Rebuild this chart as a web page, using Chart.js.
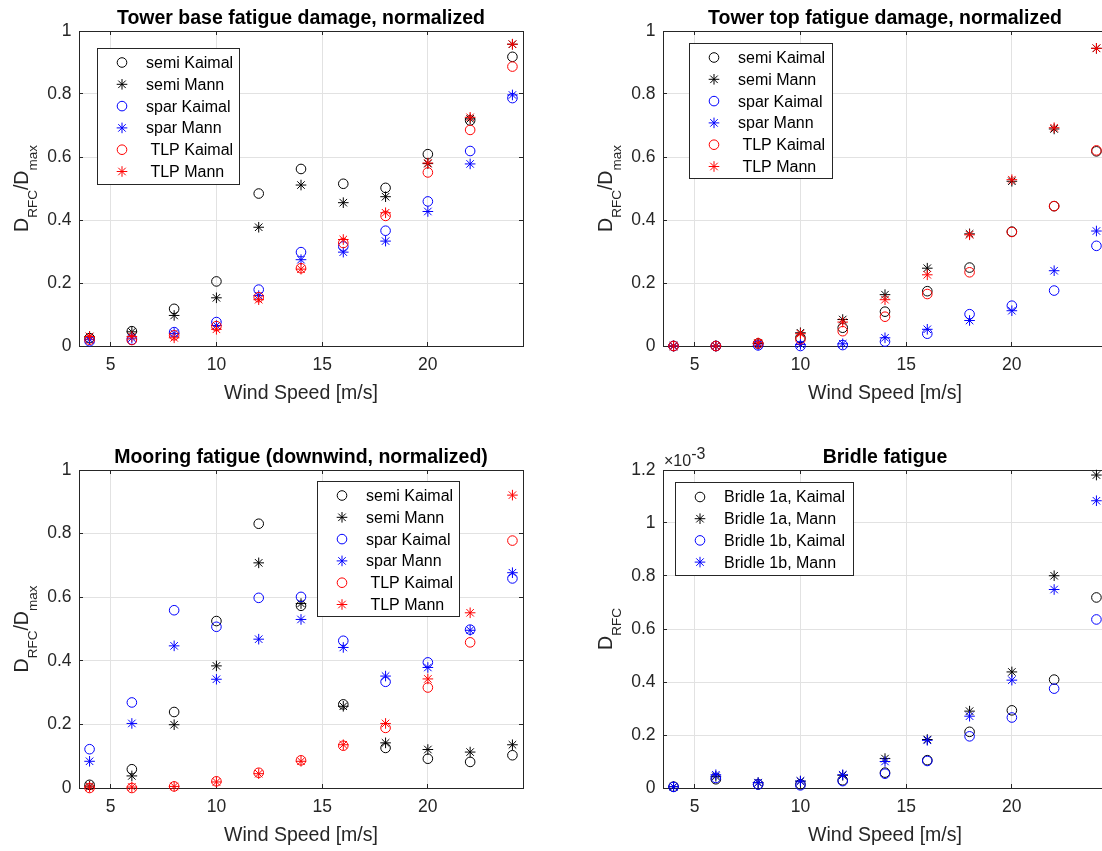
<!DOCTYPE html>
<html>
<head>
<meta charset="utf-8">
<title>Fatigue damage vs wind speed</title>
<script src="https://cdn.jsdelivr.net/npm/chart.js@4.4.1/dist/chart.umd.min.js"></script>
<style>
  html, body { margin: 0; padding: 0; background: #fff; width: 1102px; height: 851px; overflow: hidden; }
  canvas { position: absolute; }
</style>
</head>
<body>
<canvas id="towerBase" width="560" height="425" style="left:0;top:0"></canvas>
<canvas id="towerTop" width="560" height="425" style="left:560px;top:0"></canvas>
<canvas id="mooring" width="560" height="426" style="left:0;top:425px"></canvas>
<canvas id="bridle" width="560" height="426" style="left:560px;top:425px"></canvas>
<script>
// wind speeds [m/s]
const windSpeed = [4, 6, 8, 10, 12, 14, 16, 18, 20, 22, 24];
const xTicks = [5, 10, 15, 20];
const yTicksNorm = [0, 0.2, 0.4, 0.6, 0.8, 1];
const yTicksBridle = [0, 0.2, 0.4, 0.6, 0.8, 1, 1.2];

const caseLabels = ["semi Kaimal", "semi Mann", "spar Kaimal", "spar Mann", " TLP Kaimal", " TLP Mann"];
const bridleLabels = ["Bridle 1a, Kaimal", "Bridle 1a, Mann", "Bridle 1b, Kaimal", "Bridle 1b, Mann"];

// tower base, normalized
const baseSemiKaimal = [0.025, 0.047, 0.118, 0.205, 0.484, 0.562, 0.515, 0.502, 0.609, 0.716, 0.918];
const baseSemiMann = [0.030, 0.045, 0.097, 0.153, 0.377, 0.511, 0.455, 0.474, 0.579, 0.721, 0.958];
const baseSparKaimal = [0.015, 0.020, 0.044, 0.076, 0.179, 0.298, 0.316, 0.366, 0.459, 0.619, 0.787];
const baseSparMann = [0.020, 0.025, 0.040, 0.065, 0.160, 0.274, 0.298, 0.333, 0.427, 0.578, 0.797];
const baseTlpKaimal = [0.020, 0.019, 0.034, 0.063, 0.155, 0.247, 0.327, 0.413, 0.551, 0.686, 0.887];
const baseTlpMann = [0.030, 0.030, 0.026, 0.053, 0.147, 0.244, 0.338, 0.423, 0.581, 0.726, 0.958];

// tower top, normalized
const topSemiKaimal = [0, 0, 0.008, 0.026, 0.058, 0.109, 0.174, 0.249, 0.363, 0.444, 0.618];
const topSemiMann = [0, 0, 0.008, 0.042, 0.084, 0.163, 0.247, 0.356, 0.523, 0.689, 0.945];
const topSparKaimal = [0, 0, 0.002, 0.000, 0.003, 0.014, 0.039, 0.101, 0.128, 0.176, 0.318];
const topSparMann = [0, 0, 0.003, 0.005, 0.007, 0.026, 0.053, 0.081, 0.112, 0.239, 0.365];
const topTlpKaimal = [0, 0, 0.008, 0.021, 0.047, 0.093, 0.165, 0.234, 0.362, 0.444, 0.621];
const topTlpMann = [0, 0, 0.010, 0.039, 0.076, 0.147, 0.226, 0.353, 0.528, 0.693, 0.945];

// mooring (downwind), normalized
const moorSemiKaimal = [0.010, 0.059, 0.239, 0.525, 0.831, 0.573, 0.263, 0.126, 0.092, 0.082, 0.103];
const moorSemiMann = [0.006, 0.038, 0.199, 0.384, 0.708, 0.580, 0.257, 0.142, 0.121, 0.113, 0.136];
const moorSparKaimal = [0.122, 0.269, 0.559, 0.507, 0.598, 0.601, 0.463, 0.334, 0.395, 0.498, 0.659];
const moorSparMann = [0.084, 0.203, 0.447, 0.342, 0.468, 0.530, 0.442, 0.352, 0.379, 0.496, 0.677];
const moorTlpKaimal = [0.000, 0.000, 0.005, 0.021, 0.048, 0.087, 0.133, 0.189, 0.316, 0.458, 0.778];
const moorTlpMann = [0.003, 0.003, 0.005, 0.019, 0.045, 0.084, 0.136, 0.203, 0.343, 0.551, 0.921];

// bridle D_RFC, in units of 1e-3
const bridle1aKaimal = [0.005, 0.033, 0.014, 0.014, 0.029, 0.058, 0.105, 0.212, 0.293, 0.409, 0.719];
const bridle1aMann = [0.005, 0.044, 0.020, 0.026, 0.048, 0.111, 0.183, 0.290, 0.438, 0.801, 1.181];
const bridle1bKaimal = [0.004, 0.038, 0.013, 0.010, 0.026, 0.054, 0.102, 0.195, 0.266, 0.375, 0.636];
const bridle1bMann = [0.005, 0.050, 0.020, 0.026, 0.050, 0.100, 0.180, 0.271, 0.407, 0.749, 1.084];

const FONT = "'Liberation Sans', Arial, Helvetica, sans-serif";
const AXIS_COLOR = "#262626";
const GRID_COLOR = "#e2e2e2";
const CIRCLE_R = 4.8;
const STAR_R = 5.3;

const caseStyles = [
  { color: "#000000", marker: "circle" },
  { color: "#000000", marker: "star" },
  { color: "#0000ff", marker: "circle" },
  { color: "#0000ff", marker: "star" },
  { color: "#ff0000", marker: "circle" },
  { color: "#ff0000", marker: "star" },
];

const normYLabel = [["D", false], ["RFC", true], ["/D", false], ["max", true]];

const panels = [
  {
    id: "towerBase", width: 560, height: 425,
    area: { left: 79, top: 31, right: 523, bottom: 346 },
    title: "Tower base fatigue damage, normalized",
    yLabel: normYLabel, yTicks: yTicksNorm, yMax: 1,
    labels: caseLabels, styles: caseStyles,
    series: [baseSemiKaimal, baseSemiMann, baseSparKaimal, baseSparMann, baseTlpKaimal, baseTlpMann],
    legend: { x: 97, y: 48, w: 142, h: 136, first: 14.5, step: 21.8 },
  },
  {
    id: "towerTop", width: 560, height: 425,
    area: { left: 103, top: 31, right: 547, bottom: 346 },
    title: "Tower top fatigue damage, normalized",
    yLabel: normYLabel, yTicks: yTicksNorm, yMax: 1,
    labels: caseLabels, styles: caseStyles,
    series: [topSemiKaimal, topSemiMann, topSparKaimal, topSparMann, topTlpKaimal, topTlpMann],
    legend: { x: 129, y: 43, w: 143, h: 135, first: 14.5, step: 21.8 },
  },
  {
    id: "mooring", width: 560, height: 426,
    area: { left: 79, top: 45, right: 523, bottom: 363 },
    title: "Mooring fatigue (downwind, normalized)",
    yLabel: normYLabel, yTicks: yTicksNorm, yMax: 1,
    labels: caseLabels, styles: caseStyles,
    series: [moorSemiKaimal, moorSemiMann, moorSparKaimal, moorSparMann, moorTlpKaimal, moorTlpMann],
    legend: { x: 317, y: 56, w: 142, h: 135, first: 14.5, step: 21.8 },
  },
  {
    id: "bridle", width: 560, height: 426,
    area: { left: 103, top: 45, right: 547, bottom: 363 },
    title: "Bridle fatigue",
    yLabel: [["D", false], ["RFC", true]], yTicks: yTicksBridle, yMax: 1.2,
    exponent: "-3",
    labels: bridleLabels, styles: caseStyles.slice(0, 4),
    series: [bridle1aKaimal, bridle1aMann, bridle1bKaimal, bridle1bMann],
    legend: { x: 115, y: 57, w: 178, h: 93, first: 15, step: 21.7 },
  },
];

function align(p) {
  return Math.round(p - 0.5) + 0.5;
}

function drawMarker(ctx, style, x, y) {
  ctx.strokeStyle = style.color;
  ctx.lineWidth = 1;
  ctx.beginPath();
  if (style.marker === "circle") {
    ctx.arc(x, y, CIRCLE_R, 0, Math.PI * 2);
  } else {
    const r = STAR_R, d = STAR_R * Math.SQRT1_2;
    ctx.moveTo(x - r, y); ctx.lineTo(x + r, y);
    ctx.moveTo(x, y - r); ctx.lineTo(x, y + r);
    ctx.moveTo(x - d, y - d); ctx.lineTo(x + d, y + d);
    ctx.moveTo(x - d, y + d); ctx.lineTo(x + d, y - d);
  }
  ctx.stroke();
}

function decor(panel) {
  return {
    id: "decor",
    beforeDatasetsDraw(chart) {
      const { ctx, chartArea: a, scales } = chart;
      ctx.save();
      ctx.strokeStyle = AXIS_COLOR;
      ctx.lineWidth = 1;
      ctx.strokeRect(a.left + 0.5, a.top + 0.5, a.right - a.left, a.bottom - a.top);
      ctx.beginPath();
      xTicks.forEach(v => {
        const p = align(scales.x.getPixelForValue(v));
        ctx.moveTo(p, a.bottom); ctx.lineTo(p, a.bottom - 4);
        ctx.moveTo(p, a.top); ctx.lineTo(p, a.top + 4);
      });
      panel.yTicks.forEach(v => {
        const p = align(scales.y.getPixelForValue(v));
        ctx.moveTo(a.left, p); ctx.lineTo(a.left + 4, p);
        ctx.moveTo(a.right, p); ctx.lineTo(a.right - 4, p);
      });
      ctx.stroke();
      ctx.restore();
    },
    afterDraw(chart) {
      const { ctx, chartArea: a } = chart;
      const cx = (a.left + a.right) / 2;
      ctx.save();
      ctx.textBaseline = "alphabetic";

      // title
      ctx.fillStyle = "#000";
      ctx.font = "bold 19.5px " + FONT;
      ctx.textAlign = "center";
      ctx.fillText(panel.title, cx, a.top - 7.5);

      // x label
      ctx.fillStyle = AXIS_COLOR;
      ctx.font = "19.5px " + FONT;
      ctx.fillText("Wind Speed [m/s]", cx, a.bottom + 52.5);

      // y label with subscripts
      ctx.save();
      ctx.translate(a.left - 51, (a.top + a.bottom) / 2);
      ctx.rotate(-Math.PI / 2);
      ctx.textAlign = "left";
      const fontOf = sub => (sub ? "13.5px " : "19.5px ") + FONT;
      let total = 0;
      panel.yLabel.forEach(([t, sub]) => { ctx.font = fontOf(sub); total += ctx.measureText(t).width; });
      let pos = -total / 2;
      panel.yLabel.forEach(([t, sub]) => {
        ctx.font = fontOf(sub);
        ctx.fillText(t, pos, sub ? 8.5 : 0);
        pos += ctx.measureText(t).width;
      });
      ctx.restore();

      // exponent label
      if (panel.exponent) {
        ctx.textAlign = "left";
        ctx.font = "16px " + FONT;
        ctx.fillText("\u00d710", a.left + 1, a.top - 4.5);
        const w = ctx.measureText("\u00d710").width;
        ctx.fillText(panel.exponent, a.left + 1 + w, a.top - 11.5);
      }

      // legend
      const L = panel.legend;
      ctx.fillStyle = "#fff";
      ctx.fillRect(L.x, L.y, L.w, L.h);
      ctx.strokeStyle = AXIS_COLOR;
      ctx.lineWidth = 1;
      ctx.strokeRect(L.x + 0.5, L.y + 0.5, L.w, L.h);
      ctx.font = "16px " + FONT;
      ctx.textAlign = "left";
      ctx.textBaseline = "middle";
      panel.labels.forEach((label, i) => {
        const y = L.y + L.first + i * L.step;
        drawMarker(ctx, panel.styles[i], L.x + 25, y);
        ctx.fillStyle = "#000";
        ctx.fillText(label, L.x + 49, y + 1);
      });
      ctx.restore();
    },
  };
}

function makeChart(panel) {
  const n = panel.series.length;
  const datasets = panel.series.map((values, i) => {
    const st = panel.styles[i];
    const r = st.marker === "circle" ? CIRCLE_R : STAR_R;
    return {
      label: panel.labels[i],
      data: values.map((v, k) => ({ x: windSpeed[k], y: v })),
      showLine: false,
      pointStyle: st.marker,
      pointRadius: r,
      pointHoverRadius: r,
      pointBorderWidth: 1,
      pointBorderColor: st.color,
      pointBackgroundColor: "rgba(0,0,0,0)",
      borderColor: st.color,
      backgroundColor: "rgba(0,0,0,0)",
      order: n - i,
      clip: false,
    };
  });

  const tickFont = { family: FONT, size: 17.5 };

  return new Chart(document.getElementById(panel.id), {
    type: "scatter",
    data: { datasets },
    options: {
      responsive: false,
      animation: false,
      events: [],
      layout: { padding: { left: 0, top: panel.area.top, right: panel.width - panel.area.right, bottom: 0 } },
      plugins: { legend: { display: false }, tooltip: { enabled: false }, title: { display: false } },
      scales: {
        x: {
          type: "linear", min: 3.5, max: 24.5,
          afterBuildTicks: s => { s.ticks = xTicks.map(v => ({ value: v })); },
          afterFit: s => { s.height = panel.height - panel.area.bottom; },
          grid: { color: GRID_COLOR, drawTicks: false, lineWidth: 1 },
          border: { display: false },
          ticks: { font: tickFont, color: AXIS_COLOR, padding: 9, maxRotation: 0, callback: v => String(v) },
        },
        y: {
          type: "linear", min: 0, max: panel.yMax,
          afterBuildTicks: s => { s.ticks = panel.yTicks.map(v => ({ value: v })); },
          afterFit: s => { s.width = panel.area.left; },
          grid: { color: GRID_COLOR, drawTicks: false, lineWidth: 1 },
          border: { display: false },
          ticks: { font: tickFont, color: AXIS_COLOR, padding: 7.5, callback: v => String(v) },
        },
      },
    },
    plugins: [decor(panel)],
  });
}

panels.forEach(makeChart);
</script>
</body>
</html>
